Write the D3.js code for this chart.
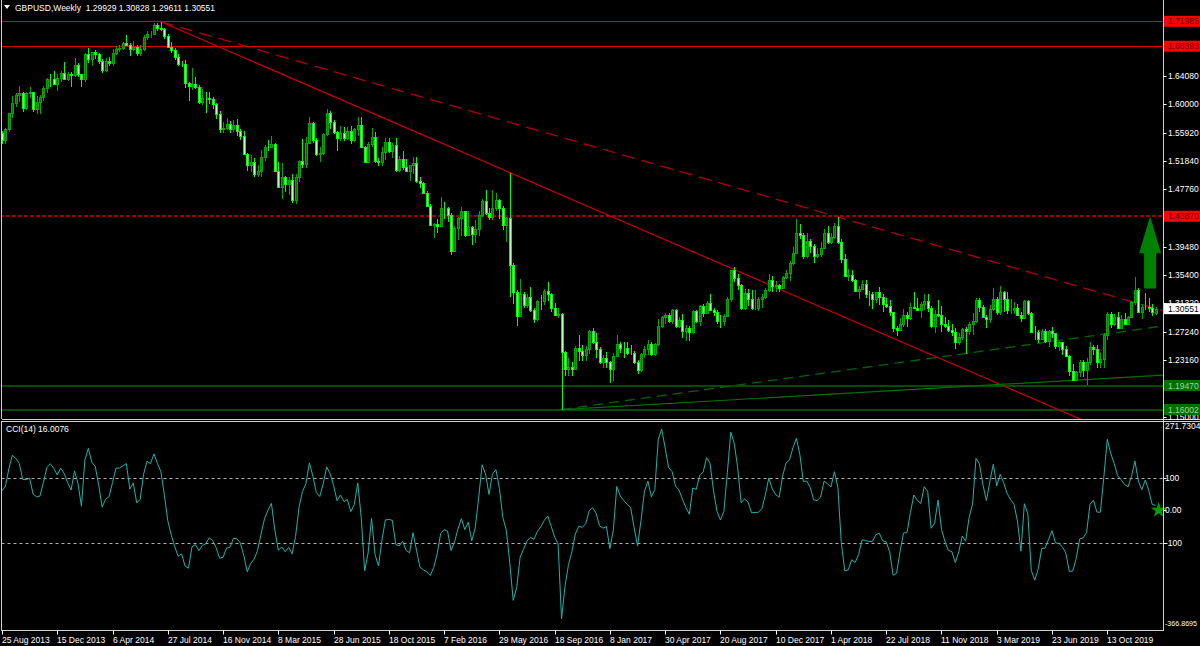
<!DOCTYPE html>
<html><head><meta charset="utf-8">
<script src="https://cdn.jsdelivr.net/npm/d3@7/dist/d3.min.js"></script>
<style>
body{margin:0;background:#000;overflow:hidden}
svg{display:block}
text{font-family:"Liberation Sans",Arial,sans-serif;}
</style></head>
<body><svg id="c" width="1200" height="646"></svg>
<script>
// ---------------- DATA ----------------
const symbolTitle = "GBPUSD,Weekly";
const headerOHLC = ["1.29929","1.30828","1.29611","1.30551"];
const cciTitle = "CCI(14) 16.0076";

// weekly candles, first bar = week of 25 Aug 2013
const open = [
1.5588,1.5494,1.5645,1.5870,1.6020,1.6130,1.6170,1.5950,1.6165,1.6180,
1.5930,1.6030,1.6110,1.6230,1.6365,1.6360,1.6290,1.6380,1.6460,1.6370,
1.6440,1.6430,1.6570,1.6440,1.6360,1.6730,1.6660,1.6750,1.6730,1.6620,
1.6490,1.6630,1.6600,1.6740,1.6800,1.6820,1.6890,1.6860,1.6800,1.6830,
1.6740,1.6800,1.6970,1.7010,1.7020,1.7150,1.7105,1.7085,1.6990,1.6830,
1.6790,1.6690,1.6590,1.6590,1.6310,1.6260,1.6300,1.6250,1.6030,1.6090,
1.6090,1.6080,1.6000,1.5860,1.5640,1.5660,1.5720,1.5650,1.5710,1.5610,
1.5540,1.5280,1.5120,1.5170,1.4990,1.5040,1.5240,1.5390,1.5390,1.5430,
1.5040,1.4810,1.4960,1.4850,1.4910,1.4620,1.4960,1.5180,1.5140,1.5450,
1.5730,1.5480,1.5280,1.5300,1.5570,1.5880,1.5740,1.5600,1.5510,1.5590,
1.5510,1.5610,1.5490,1.5640,1.5700,1.5390,1.5170,1.5430,1.5530,1.5190,
1.5170,1.5320,1.5460,1.5330,1.5420,1.5050,1.5210,1.5100,1.5040,1.5120,
1.5160,1.4900,1.4870,1.4730,1.4530,1.4260,1.4280,1.4250,1.4500,1.4500,
1.4400,1.3880,1.4220,1.4360,1.4460,1.4120,1.4230,1.4130,1.4200,1.4410,
1.4610,1.4430,1.4370,1.4500,1.4620,1.4510,1.4260,1.4360,1.3680,1.3300,
1.2950,1.3260,1.3110,1.3230,1.3030,1.2900,1.3160,1.3160,1.3310,1.3260,
1.3060,1.2970,1.2980,1.2430,1.2190,1.2210,1.2190,1.2490,1.2450,1.2380,
1.2480,1.2740,1.2570,1.2480,1.2290,1.2340,1.2280,1.2180,1.2370,1.2550,
1.2490,1.2490,1.2410,1.2410,1.2290,1.2170,1.2400,1.2470,1.2550,1.2400,
1.2550,1.2800,1.2940,1.2970,1.2880,1.3030,1.2800,1.2890,1.2740,1.2780,
1.2720,1.3020,1.2880,1.3100,1.2990,1.3130,1.3040,1.3010,1.2880,1.2880,
1.2950,1.3200,1.3610,1.3490,1.3390,1.3060,1.3280,1.3190,1.3060,1.3070,
1.3190,1.3230,1.3330,1.3470,1.3380,1.3390,1.3360,1.3510,1.3570,1.3720,
1.3860,1.4150,1.4120,1.3820,1.4030,1.3960,1.3820,1.3850,1.3930,1.4150,
1.4010,1.4090,1.4240,1.4010,1.3770,1.3520,1.3540,1.3470,1.3310,1.3340,
1.3410,1.3270,1.3270,1.3190,1.3290,1.3230,1.3120,1.3100,1.3000,1.2770,
1.2750,1.2830,1.2960,1.2920,1.3080,1.3070,1.3040,1.3120,1.3160,1.3070,
1.2800,1.2980,1.2970,1.2830,1.2800,1.2750,1.2720,1.2580,1.2640,1.2760,
1.2740,1.2840,1.2880,1.3180,1.3080,1.2940,1.2900,1.3050,1.3200,1.3010,
1.3290,1.3200,1.3030,1.3040,1.3070,1.2970,1.2920,1.3170,1.2990,1.2720,
1.2720,1.2620,1.2740,1.2590,1.2730,1.2700,1.2520,1.2570,1.2480,1.2370,
1.2160,1.2030,1.2140,1.2290,1.2170,1.2280,1.2500,1.2470,1.2290,1.2330,
1.2670,1.2980,1.2830,1.2940,1.2780,1.2900,1.2840,1.2930,1.3150,1.3330,
1.3000,1.3080,1.3080,1.3060,1.29929];
const high = [
1.5620,1.5665,1.5875,1.6125,1.6160,1.6260,1.6180,1.6185,1.6255,1.6185,
1.6120,1.6140,1.6260,1.6385,1.6445,1.6475,1.6440,1.6480,1.6605,1.6470,
1.6470,1.6670,1.6600,1.6440,1.6745,1.6820,1.6760,1.6790,1.6745,1.6660,
1.6670,1.6680,1.6800,1.6845,1.6850,1.6900,1.6997,1.6890,1.6920,1.6850,
1.6855,1.7000,1.7065,1.7060,1.7180,1.7180,1.7192,1.7095,1.7010,1.6895,
1.6810,1.6720,1.6625,1.6640,1.6330,1.6525,1.6400,1.6285,1.6225,1.6180,
1.6180,1.6110,1.6020,1.5910,1.5740,1.5810,1.5760,1.5780,1.5785,1.5650,
1.5620,1.5300,1.5265,1.5225,1.5130,1.5350,1.5410,1.5485,1.5550,1.5450,
1.5170,1.5160,1.4970,1.4950,1.4990,1.5000,1.5200,1.5500,1.5525,1.5815,
1.5740,1.5520,1.5380,1.5590,1.5930,1.5900,1.5780,1.5610,1.5690,1.5675,
1.5670,1.5690,1.5660,1.5820,1.5820,1.5400,1.5460,1.5660,1.5600,1.5225,
1.5385,1.5510,1.5510,1.5440,1.5510,1.5250,1.5335,1.5210,1.5130,1.5240,
1.5240,1.4950,1.4880,1.4750,1.4560,1.4295,1.4355,1.4670,1.4590,1.4515,
1.4430,1.4250,1.4380,1.4515,1.4470,1.4460,1.4250,1.4340,1.4460,1.4640,
1.4770,1.4500,1.4770,1.4720,1.4630,1.4530,1.4380,1.5018,1.3720,1.3330,
1.3480,1.3290,1.3260,1.3370,1.3060,1.3185,1.3250,1.3340,1.3440,1.3280,
1.3130,1.3060,1.2990,1.2450,1.2340,1.2290,1.2510,1.2670,1.2530,1.2520,
1.2750,1.2775,1.2700,1.2500,1.2390,1.2430,1.2300,1.2415,1.2670,1.2570,
1.2580,1.2570,1.2530,1.2440,1.2310,1.2410,1.2520,1.2610,1.2570,1.2560,
1.2905,1.2950,1.2990,1.2990,1.3050,1.3050,1.2940,1.2980,1.2820,1.2810,
1.3030,1.3030,1.3110,1.3125,1.3170,1.3270,1.3060,1.3040,1.2970,1.2980,
1.3225,1.3615,1.3655,1.3555,1.3410,1.3340,1.3340,1.3320,1.3320,1.3225,
1.3260,1.3360,1.3550,1.3520,1.3460,1.3410,1.3520,1.3615,1.3745,1.3945,
1.4345,1.4280,1.4150,1.4145,1.4065,1.3985,1.3930,1.4010,1.4200,1.4245,
1.4150,1.4290,1.4377,1.4060,1.3840,1.3620,1.3615,1.3480,1.3380,1.3470,
1.3475,1.3310,1.3290,1.3300,1.3365,1.3260,1.3215,1.3175,1.3010,1.2800,
1.2920,1.3045,1.3000,1.3140,1.3300,1.3210,1.3150,1.3260,1.3260,1.3100,
1.3040,1.3175,1.3090,1.2930,1.2890,1.2840,1.2770,1.2700,1.2780,1.2790,
1.2865,1.2990,1.3215,1.3215,1.3110,1.2960,1.3110,1.3350,1.3220,1.3380,
1.3305,1.3290,1.3200,1.3150,1.3120,1.3000,1.3180,1.3180,1.3000,1.2810,
1.2750,1.2765,1.2760,1.2750,1.2785,1.2710,1.2590,1.2580,1.2520,1.2380,
1.2250,1.2160,1.2310,1.2310,1.2350,1.2580,1.2530,1.2530,1.2410,1.2710,
1.3010,1.3010,1.2980,1.3010,1.2970,1.2990,1.2950,1.3170,1.3515,1.3350,
1.3120,1.3285,1.3210,1.3120,1.30828];
const low = [
1.5425,1.5425,1.5600,1.5810,1.5965,1.6040,1.5895,1.5915,1.6095,1.5895,
1.5855,1.5855,1.6050,1.6170,1.6250,1.6280,1.6200,1.6325,1.6355,1.6345,
1.6255,1.6400,1.6400,1.6250,1.6330,1.6600,1.6550,1.6650,1.6580,1.6460,
1.6470,1.6560,1.6550,1.6710,1.6760,1.6780,1.6850,1.6695,1.6770,1.6695,
1.6695,1.6770,1.6925,1.6960,1.7000,1.7060,1.7060,1.6945,1.6810,1.6735,
1.6645,1.6560,1.6535,1.6240,1.6050,1.6210,1.6220,1.6000,1.5990,1.5875,
1.6000,1.5940,1.5790,1.5590,1.5590,1.5630,1.5590,1.5600,1.5540,1.5490,
1.5270,1.5035,1.5030,1.4950,1.4950,1.4955,1.5190,1.5335,1.5380,1.5020,
1.4800,1.4635,1.4740,1.4690,1.4585,1.4565,1.4875,1.5080,1.5080,1.5440,
1.5440,1.5250,1.5170,1.5270,1.5540,1.5650,1.5570,1.5330,1.5470,1.5470,
1.5490,1.5430,1.5460,1.5550,1.5370,1.5165,1.5160,1.5380,1.5160,1.5105,
1.5110,1.5200,1.5300,1.5230,1.5030,1.5025,1.5060,1.5020,1.4895,1.5000,
1.4860,1.4800,1.4705,1.4520,1.4240,1.4080,1.4150,1.4240,1.4350,1.4310,
1.3835,1.3870,1.4050,1.4100,1.4085,1.4100,1.3980,1.4005,1.4100,1.4380,
1.4410,1.4330,1.4330,1.4460,1.4350,1.4190,1.4010,1.3229,1.3120,1.2800,
1.2930,1.3060,1.3060,1.3000,1.2850,1.2870,1.3030,1.3110,1.3170,1.3000,
1.2945,1.2920,1.1600,1.2085,1.2080,1.2080,1.2170,1.2300,1.2300,1.2300,
1.2400,1.2550,1.2340,1.2250,1.2200,1.2200,1.1985,1.2010,1.2360,1.2410,
1.2350,1.2380,1.2380,1.2250,1.2110,1.2140,1.2340,1.2380,1.2370,1.2370,
1.2510,1.2770,1.2840,1.2850,1.2840,1.2770,1.2770,1.2635,1.2590,1.2590,
1.2690,1.2850,1.2810,1.2930,1.2980,1.3030,1.2955,1.2835,1.2770,1.2810,
1.2930,1.3150,1.3440,1.3320,1.3030,1.3030,1.3090,1.3030,1.3040,1.3025,
1.3060,1.3190,1.3300,1.3300,1.3300,1.3300,1.3340,1.3480,1.3460,1.3690,
1.3850,1.4060,1.3765,1.3790,1.3860,1.3710,1.3780,1.3800,1.3910,1.3990,
1.3990,1.4060,1.3990,1.3710,1.3510,1.3460,1.3440,1.3300,1.3200,1.3320,
1.3205,1.3100,1.3050,1.3130,1.3105,1.3010,1.3060,1.2955,1.2725,1.2660,
1.2730,1.2790,1.2785,1.2890,1.3050,1.3030,1.2920,1.3030,1.3000,1.2780,
1.2700,1.2940,1.2725,1.2780,1.2720,1.2660,1.2475,1.2530,1.2600,1.2400,
1.2670,1.2670,1.2850,1.3000,1.2920,1.2770,1.2850,1.3020,1.2960,1.2960,
1.3000,1.2980,1.2980,1.2980,1.2960,1.2865,1.2900,1.2970,1.2710,1.2605,
1.2560,1.2600,1.2560,1.2505,1.2630,1.2480,1.2440,1.2380,1.2360,1.2080,
1.2015,1.2020,1.2070,1.2070,1.1958,1.2240,1.2380,1.2200,1.2200,1.2200,
1.2600,1.2780,1.2800,1.2770,1.2770,1.2820,1.2820,1.2920,1.3110,1.2990,
1.2900,1.3040,1.3010,1.2955,1.29611];
const close = [
1.5494,1.5645,1.5870,1.6020,1.6130,1.6170,1.5950,1.6165,1.6180,1.5930,
1.6030,1.6110,1.6230,1.6365,1.6360,1.6290,1.6380,1.6460,1.6370,1.6440,
1.6430,1.6570,1.6440,1.6360,1.6730,1.6660,1.6750,1.6730,1.6620,1.6490,
1.6630,1.6600,1.6740,1.6800,1.6820,1.6890,1.6860,1.6800,1.6830,1.6740,
1.6800,1.6970,1.7010,1.7020,1.7150,1.7105,1.7085,1.6990,1.6830,1.6790,
1.6690,1.6590,1.6590,1.6310,1.6260,1.6300,1.6250,1.6030,1.6090,1.6090,
1.6080,1.6000,1.5860,1.5640,1.5660,1.5720,1.5650,1.5710,1.5610,1.5540,
1.5280,1.5120,1.5170,1.4990,1.5040,1.5240,1.5390,1.5390,1.5430,1.5040,
1.4810,1.4960,1.4850,1.4910,1.4620,1.4960,1.5180,1.5140,1.5450,1.5730,
1.5480,1.5280,1.5300,1.5570,1.5880,1.5740,1.5600,1.5510,1.5590,1.5510,
1.5610,1.5490,1.5640,1.5700,1.5390,1.5170,1.5430,1.5530,1.5190,1.5170,
1.5320,1.5460,1.5330,1.5420,1.5050,1.5210,1.5100,1.5040,1.5120,1.5160,
1.4900,1.4870,1.4730,1.4530,1.4260,1.4280,1.4250,1.4500,1.4500,1.4400,
1.3880,1.4220,1.4360,1.4460,1.4120,1.4230,1.4130,1.4200,1.4410,1.4610,
1.4430,1.4370,1.4500,1.4620,1.4510,1.4260,1.4360,1.3680,1.3300,1.2950,
1.3260,1.3110,1.3230,1.3030,1.2900,1.3160,1.3160,1.3310,1.3260,1.3060,
1.2970,1.2980,1.2430,1.2190,1.2210,1.2190,1.2490,1.2450,1.2380,1.2480,
1.2740,1.2570,1.2480,1.2290,1.2340,1.2280,1.2180,1.2370,1.2550,1.2490,
1.2490,1.2410,1.2410,1.2290,1.2170,1.2400,1.2470,1.2550,1.2400,1.2550,
1.2800,1.2940,1.2970,1.2880,1.3030,1.2800,1.2890,1.2740,1.2780,1.2720,
1.3020,1.2880,1.3100,1.2990,1.3130,1.3040,1.3010,1.2880,1.2880,1.2950,
1.3200,1.3610,1.3490,1.3390,1.3060,1.3280,1.3190,1.3060,1.3070,1.3190,
1.3230,1.3330,1.3470,1.3380,1.3390,1.3360,1.3510,1.3570,1.3720,1.3860,
1.4150,1.4120,1.3820,1.4030,1.3960,1.3820,1.3850,1.3930,1.4150,1.4010,
1.4090,1.4240,1.4010,1.3770,1.3520,1.3540,1.3470,1.3310,1.3340,1.3410,
1.3270,1.3270,1.3190,1.3290,1.3230,1.3120,1.3100,1.3000,1.2770,1.2750,
1.2830,1.2960,1.2920,1.3080,1.3070,1.3040,1.3120,1.3160,1.3070,1.2800,
1.2980,1.2970,1.2830,1.2800,1.2750,1.2720,1.2580,1.2640,1.2760,1.2740,
1.2840,1.2880,1.3180,1.3080,1.2940,1.2900,1.3050,1.3200,1.3010,1.3290,
1.3200,1.3030,1.3040,1.3070,1.2970,1.2920,1.3170,1.2990,1.2720,1.2720,
1.2620,1.2740,1.2590,1.2730,1.2700,1.2520,1.2570,1.2480,1.2370,1.2160,
1.2030,1.2140,1.2290,1.2170,1.2280,1.2500,1.2470,1.2290,1.2330,1.2670,
1.2980,1.2830,1.2940,1.2780,1.2900,1.2840,1.2930,1.3150,1.3330,1.3000,
1.3080,1.3080,1.3060,1.3010,1.30551];

// 13 weeks before the first visible bar (CCI warm-up only)
const preHigh  = [1.5250,1.5605,1.5750,1.5750,1.5450,1.5390,1.5240,1.5290,1.5440,1.5400,1.5520,1.5660,1.5720];
const preLow   = [1.5010,1.5180,1.5500,1.5390,1.5190,1.4860,1.4810,1.5010,1.5230,1.5100,1.5180,1.5430,1.5540];
const preClose = [1.5190,1.5550,1.5690,1.5440,1.5210,1.4880,1.5090,1.5270,1.5370,1.5290,1.5500,1.5640,1.5590];

const dateLabels = ["25 Aug 2013","15 Dec 2013","6 Apr 2014","27 Jul 2014","16 Nov 2014","8 Mar 2015",
 "28 Jun 2015","18 Oct 2015","7 Feb 2016","29 May 2016","18 Sep 2016","8 Jan 2017","30 Apr 2017",
 "20 Aug 2017","10 Dec 2017","1 Apr 2018","22 Jul 2018","11 Nov 2018","3 Mar 2019","23 Jun 2019","13 Oct 2019"];
const dateLabelStep = 16; // bars between labels

const priceTicks = [1.64080,1.60000,1.55920,1.51840,1.47760,1.39480,1.35400,1.31320,1.27240,1.23160,1.19080,1.15000];
const priceDomain = [1.15, 1.7304];

const hLinesRed = [1.71985, 1.68393];
const hLineRedDotted = [1.43870];
const hLinesGreen = [1.19470, 1.16002];
const currentPrice = 1.30551;

// trend lines: [barIndex, price] anchor pairs (extended to the right edge)
const trendRedDashed = [[46, 1.7192],[242, 1.4377]];
const trendRedSolid  = [[46, 1.7192],[147, 1.5018]];
const trendGreenDashed = [[162, 1.1600],[332, 1.2776]];
const trendGreenSolid  = [[162, 1.1600],[332, 1.2084]];

const arrowUp = {bar: 332.4, top: 1.4387, bottom: 1.3344};

const cciLevels = [100, -100];
const cciAxis = [
  {v: 271.7304, t: "271.7304"},
  {v: 100, t: "100"},
  {v: 0, t: "0.00"},
  {v: -100, t: "-100"},
  {v: -366.8695, t: "-366.8695"}];
const cciDomain = [-366.8695, 271.7304];

// ---------------- LAYOUT ----------------
const W = 1200, H = 646;
const plotL = 1.5, plotR = 1163.5;
const priceTop = 0, priceBot = 419;
const cciTop = 421, cciBot = 630.5;
const N = close.length;

const svg = d3.select("#c");
svg.append("rect").attr("width", W).attr("height", H).attr("fill", "#000");

const x = d3.scaleLinear().domain([0, N - 1]).range([2, 2 + (N - 1) * 3.454]);
const y = d3.scaleLinear().domain(priceDomain).range([416.5, 14]);
const yc = d3.scaleLinear().domain(cciDomain).range([629.4, 421.9]);

const defs = svg.append("defs");
defs.append("clipPath").attr("id", "clipP").append("rect")
  .attr("x", plotL).attr("y", priceTop).attr("width", plotR - plotL).attr("height", priceBot - priceTop);
defs.append("clipPath").attr("id", "clipC").append("rect")
  .attr("x", plotL).attr("y", cciTop).attr("width", plotR - plotL).attr("height", cciBot - cciTop);

const gP = svg.append("g").attr("clip-path", "url(#clipP)");
const gC = svg.append("g").attr("clip-path", "url(#clipC)");

// horizontal lines
hLinesRed.forEach(p => gP.append("line").attr("x1", 0).attr("x2", plotR)
  .attr("y1", Math.round(y(p)) + 0.5).attr("y2", Math.round(y(p)) + 0.5)
  .attr("stroke", "#e00000").attr("stroke-width", 1));
hLineRedDotted.forEach(p => gP.append("line").attr("x1", 0).attr("x2", plotR)
  .attr("y1", Math.round(y(p))).attr("y2", Math.round(y(p)))
  .attr("stroke", "#a00000").attr("stroke-width", 2).attr("stroke-dasharray", "4,2"));
hLinesGreen.forEach(p => gP.append("line").attr("x1", 0).attr("x2", plotR)
  .attr("y1", Math.round(y(p))).attr("y2", Math.round(y(p)))
  .attr("stroke", "#006400").attr("stroke-width", 1.6));

// trend lines (rays to the right edge)
function ray(g, pts, color, dash, w) {
  const [a, b] = pts;
  const x1 = x(a[0]), y1 = y(a[1]), x2 = x(b[0]), y2 = y(b[1]);
  const s = (y2 - y1) / (x2 - x1);
  const xe = plotR, ye = y1 + s * (xe - x1);
  const l = g.append("line").attr("x1", x1).attr("y1", y1).attr("x2", xe).attr("y2", ye)
    .attr("stroke", color).attr("stroke-width", w);
  if (dash) l.attr("stroke-dasharray", dash);
}
ray(gP, trendRedSolid, "#d00000", null, 1.2);
ray(gP, trendRedDashed, "#b00000", "13,7", 1.3);
ray(gP, trendGreenDashed, "#006400", "10,6", 1.3);
ray(gP, trendGreenSolid, "#007000", null, 1.2);

// candles
const idx = d3.range(N);
const gK = gP.append("g").attr("shape-rendering", "crispEdges");
idx.forEach(i => {
  const bull = close[i] > open[i];
  const px = Math.round(x(i));
  const wickCol = bull ? "#00a800" : "#00ff00";
  gK.append("line").attr("x1", px + 0.5).attr("x2", px + 0.5)
    .attr("y1", y(high[i])).attr("y2", y(low[i])).attr("stroke", wickCol).attr("stroke-width", 1);
  const yt = Math.round(y(Math.max(open[i], close[i])));
  const yb = Math.round(y(Math.min(open[i], close[i])));
  gK.append("rect").attr("x", px - 0.5).attr("y", yt + 0.5)
    .attr("width", 2).attr("height", Math.max(0, yb - yt))
    .attr("fill", bull ? "#007800" : "#b4ffb4").attr("stroke", wickCol).attr("stroke-width", 1);
});

// green arrow
{
  const cx = x(arrowUp.bar), yt = y(arrowUp.top), yb = y(arrowUp.bottom);
  const headH = 37, headW = 11, shaftW = 6;
  const path = d3.path();
  path.moveTo(cx, yt);
  path.lineTo(cx + headW, yt + headH);
  path.lineTo(cx + shaftW, yt + headH);
  path.lineTo(cx + shaftW, yb);
  path.lineTo(cx - shaftW, yb);
  path.lineTo(cx - shaftW, yt + headH);
  path.lineTo(cx - headW, yt + headH);
  path.closePath();
  gP.append("path").attr("d", path.toString()).attr("fill", "#008000");
}

// ---------------- CCI ----------------
const allH = preHigh.concat(high), allL = preLow.concat(low), allC = preClose.concat(close);
const tp = allH.map((h, i) => (h + allL[i] + allC[i]) / 3);
const period = 14, off = preHigh.length;
const cci = idx.map(i => {
  const k = i + off;
  const win = tp.slice(k - period + 1, k + 1);
  const sma = d3.mean(win);
  const md = d3.mean(win, v => Math.abs(v - sma));
  return md === 0 ? 0 : (tp[k] - sma) / (0.015 * md);
});

cciLevels.forEach(v => gC.append("line").attr("x1", plotL).attr("x2", plotR)
  .attr("y1", Math.round(yc(v)) + 0.5).attr("y2", Math.round(yc(v)) + 0.5)
  .attr("stroke", "#b0b0b0").attr("stroke-width", 1).attr("stroke-dasharray", "3,3"));

gC.append("path").datum(idx)
  .attr("d", d3.line().x(i => x(i)).y(i => yc(cci[i])))
  .attr("fill", "none").attr("stroke", "#20b2aa").attr("stroke-width", 1);

svg.append("path").attr("d", d3.symbol().type(d3.symbolStar).size(75)())
  .attr("transform", `translate(${x(N - 1) + 3},${yc(0)})`).attr("fill", "#00a000");

// ---------------- FRAMES ----------------
const fr = svg.append("g").attr("stroke", "#d0d0d0").attr("stroke-width", 1).attr("shape-rendering", "crispEdges");
fr.append("line").attr("x1", plotL).attr("x2", plotL).attr("y1", 0).attr("y2", priceBot);
fr.append("line").attr("x1", plotL).attr("x2", plotL).attr("y1", cciTop).attr("y2", cciBot);
fr.append("line").attr("x1", plotR).attr("x2", plotR).attr("y1", 0).attr("y2", cciBot);
fr.append("line").attr("x1", plotL).attr("x2", W).attr("y1", priceBot + 0.5).attr("y2", priceBot + 0.5);
fr.append("line").attr("x1", plotL).attr("x2", W).attr("y1", cciTop + 0.5).attr("y2", cciTop + 0.5);
fr.append("line").attr("x1", plotL).attr("x2", plotR).attr("y1", cciBot).attr("y2", cciBot);

// ---------------- AXES ----------------
const axisFont = 8.5;
const gA = svg.append("g").attr("fill", "#fff").attr("font-size", axisFont);

priceTicks.forEach(p => {
  const yy = Math.round(y(p));
  gA.append("line").attr("x1", plotR).attr("x2", plotR + 3).attr("y1", yy + 0.5).attr("y2", yy + 0.5)
    .attr("stroke", "#fff");
  gA.append("text").attr("x", 1168).attr("y", yy + 3).text(p.toFixed(5));
});

function tag(p, bg, fg) {
  const yy = y(p);
  svg.append("rect").attr("x", 1164).attr("y", yy - 5.5).attr("width", 36).attr("height", 11).attr("fill", bg);
  svg.append("text").attr("x", 1168).attr("y", yy + 3).attr("fill", fg).attr("font-size", axisFont).text(p.toFixed(5));
}
hLinesRed.forEach(p => tag(p, "#ff0000", "#600000"));
hLineRedDotted.forEach(p => tag(p, "#ff0000", "#600000"));
hLinesGreen.forEach(p => tag(p, "#007000", "#9cd89c"));
tag(currentPrice, "#ffffff", "#000000");

cciAxis.forEach(d => {
  let yy = yc(d.v);
  let ty = yy + 3;
  if (d.v === cciDomain[1]) ty = yy + 7;
  if (d.v === cciDomain[0]) ty = yy - 3;
  if (d.v !== cciDomain[0] && d.v !== cciDomain[1])
    gA.append("line").attr("x1", plotR).attr("x2", plotR + 3).attr("y1", Math.round(yy) + 0.5).attr("y2", Math.round(yy) + 0.5).attr("stroke", "#fff");
  const t = gA.append("text").attr("x", 1165).attr("y", ty).text(d.t);
  if (d.v === cciDomain[0]) t.attr("font-size", 8).attr("textLength", 32).attr("lengthAdjust", "spacingAndGlyphs");
});

dateLabels.forEach((t, k) => {
  const xx = Math.round(x(k * dateLabelStep));
  gA.append("line").attr("x1", xx + 0.5).attr("x2", xx + 0.5).attr("y1", cciBot).attr("y2", cciBot + 4).attr("stroke", "#fff");
  gA.append("text").attr("x", xx).attr("y", 643).text(t);
});

// ---------------- HEADERS ----------------
svg.append("path").attr("d", "M4,5 L10,5 L7,9 Z").attr("fill", "#fff");
svg.append("text").attr("x", 15).attr("y", 11).attr("fill", "#fff").attr("font-size", axisFont)
  .attr("xml:space", "preserve").text(symbolTitle + "  " + headerOHLC.join(" "));
svg.append("text").attr("x", 6).attr("y", 432).attr("fill", "#fff").attr("font-size", axisFont).text(cciTitle);
</script>
</body></html>
